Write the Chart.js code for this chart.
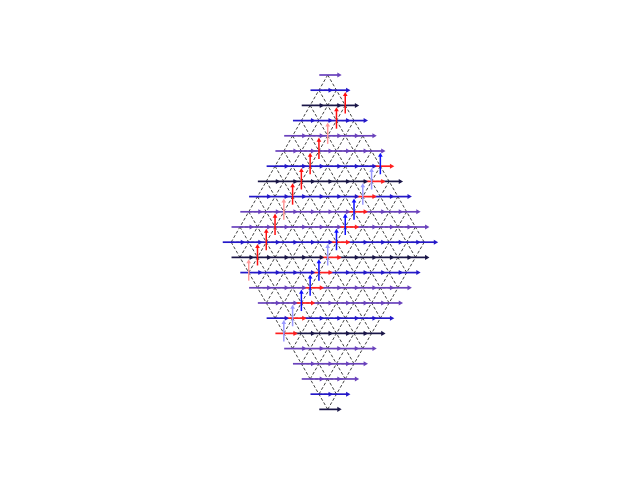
<!DOCTYPE html>
<html><head><meta charset="utf-8">
<script src="https://cdn.jsdelivr.net/npm/chart.js@4"></script>
<style>html,body{margin:0;padding:0;background:#fff}#wrap{width:640px;height:480px}</style>
</head><body><div id="wrap"><canvas id="c"></canvas></div>
<script>
// ---- data ----
const L = 12;   // sites along each edge of the rhombic lattice
// colour class of the horizontal (+x) arrows, one per lattice row (23 rows)
const rowKinds = ['v','b','k','b','v','v','b','k','b','v','v','b','k','b','v','v','b','k','v','v','v','b','k'];
// sites (column i, index j) carrying upward red arrows
const redUpI = 2;
const redUpJ = [0,1,2,3,4,5,6,7,8,9,10,11];
const redUpPale = [2,7,11];
// sites carrying upward blue arrows
const blueUpI = 6;
const blueUpJ = [0,1,2,3,4,5,6,7,8,9,10,11];
const blueUpPale = [1,2,6,10,11];

// ---- styles ----
const H = Math.sqrt(3)/2;
const palette = {k:'#1a1648', b:'#2418c8', v:'#6a42bc', r:'#ff2020'};
const U = 17.55, X0 = 327.7, Y0 = 75;
const pos = (i,j) => ({x:(i-j)/2, y:-(i+j)*H});

const datasets = [];
const dash = {showLine:true, borderColor:'rgba(20,20,20,0.9)', borderWidth:0.9, borderDash:[3,2], pointRadius:0, order:3, fill:false};
for (let k=0;k<L;k++){
  datasets.push({...dash, data:[pos(0,k), pos(L-1,k)]});
  datasets.push({...dash, data:[pos(k,0), pos(k,L-1)]});
}
for (let r=1;r<2*L-2;r++){
  const i0 = Math.max(0, r-(L-1)), i1 = Math.min(r, L-1);
  datasets.push({...dash, data:[pos(i0,r-i0), pos(i1,r-i1)]});
}
// horizontal arrows
for (let i=0;i<L;i++) for (let j=0;j<L;j++){
  const p = pos(i,j);
  const col = (i===blueUpI) ? palette.r : palette[rowKinds[i+j]];
  datasets.push({showLine:true, order:2, borderColor:col, borderWidth:1.7,
    data:[{x:p.x-0.48,y:p.y},{x:p.x+0.63,y:p.y}],
    pointRadius:[0,2.9], pointStyle:'triangle', rotation:90,
    pointBackgroundColor:col, pointBorderWidth:0, pointBorderColor:col});
}
// vertical arrows
function up(i,j,col){
  const p = pos(i,j);
  datasets.push({showLine:true, order:1, borderColor:col, borderWidth:1.5,
    data:[{x:p.x,y:p.y-0.46},{x:p.x,y:p.y+0.61}],
    pointRadius:[0,2.7], pointStyle:'triangle', rotation:0,
    pointBackgroundColor:col, pointBorderWidth:0, pointBorderColor:col});
}
redUpJ.forEach(j=>up(redUpI,j, redUpPale.includes(j)?'#ff9a9a':'#ff1010'));
blueUpJ.forEach(j=>up(blueUpI,j, blueUpPale.includes(j)?'#9a9aff':'#1010ff'));

new Chart(document.getElementById('c'), {
  type:'scatter',
  data:{datasets},
  options:{
    responsive:true, maintainAspectRatio:false, animation:false,
    layout:{padding:0, autoPadding:false},
    plugins:{legend:{display:false}, tooltip:{enabled:false}},
    scales:{
      x:{type:'linear', display:false, min:-X0/U, max:(640-X0)/U},
      y:{type:'linear', display:false, min:-(480-Y0)/U, max:Y0/U}
    }
  }
});
</script></body></html>
